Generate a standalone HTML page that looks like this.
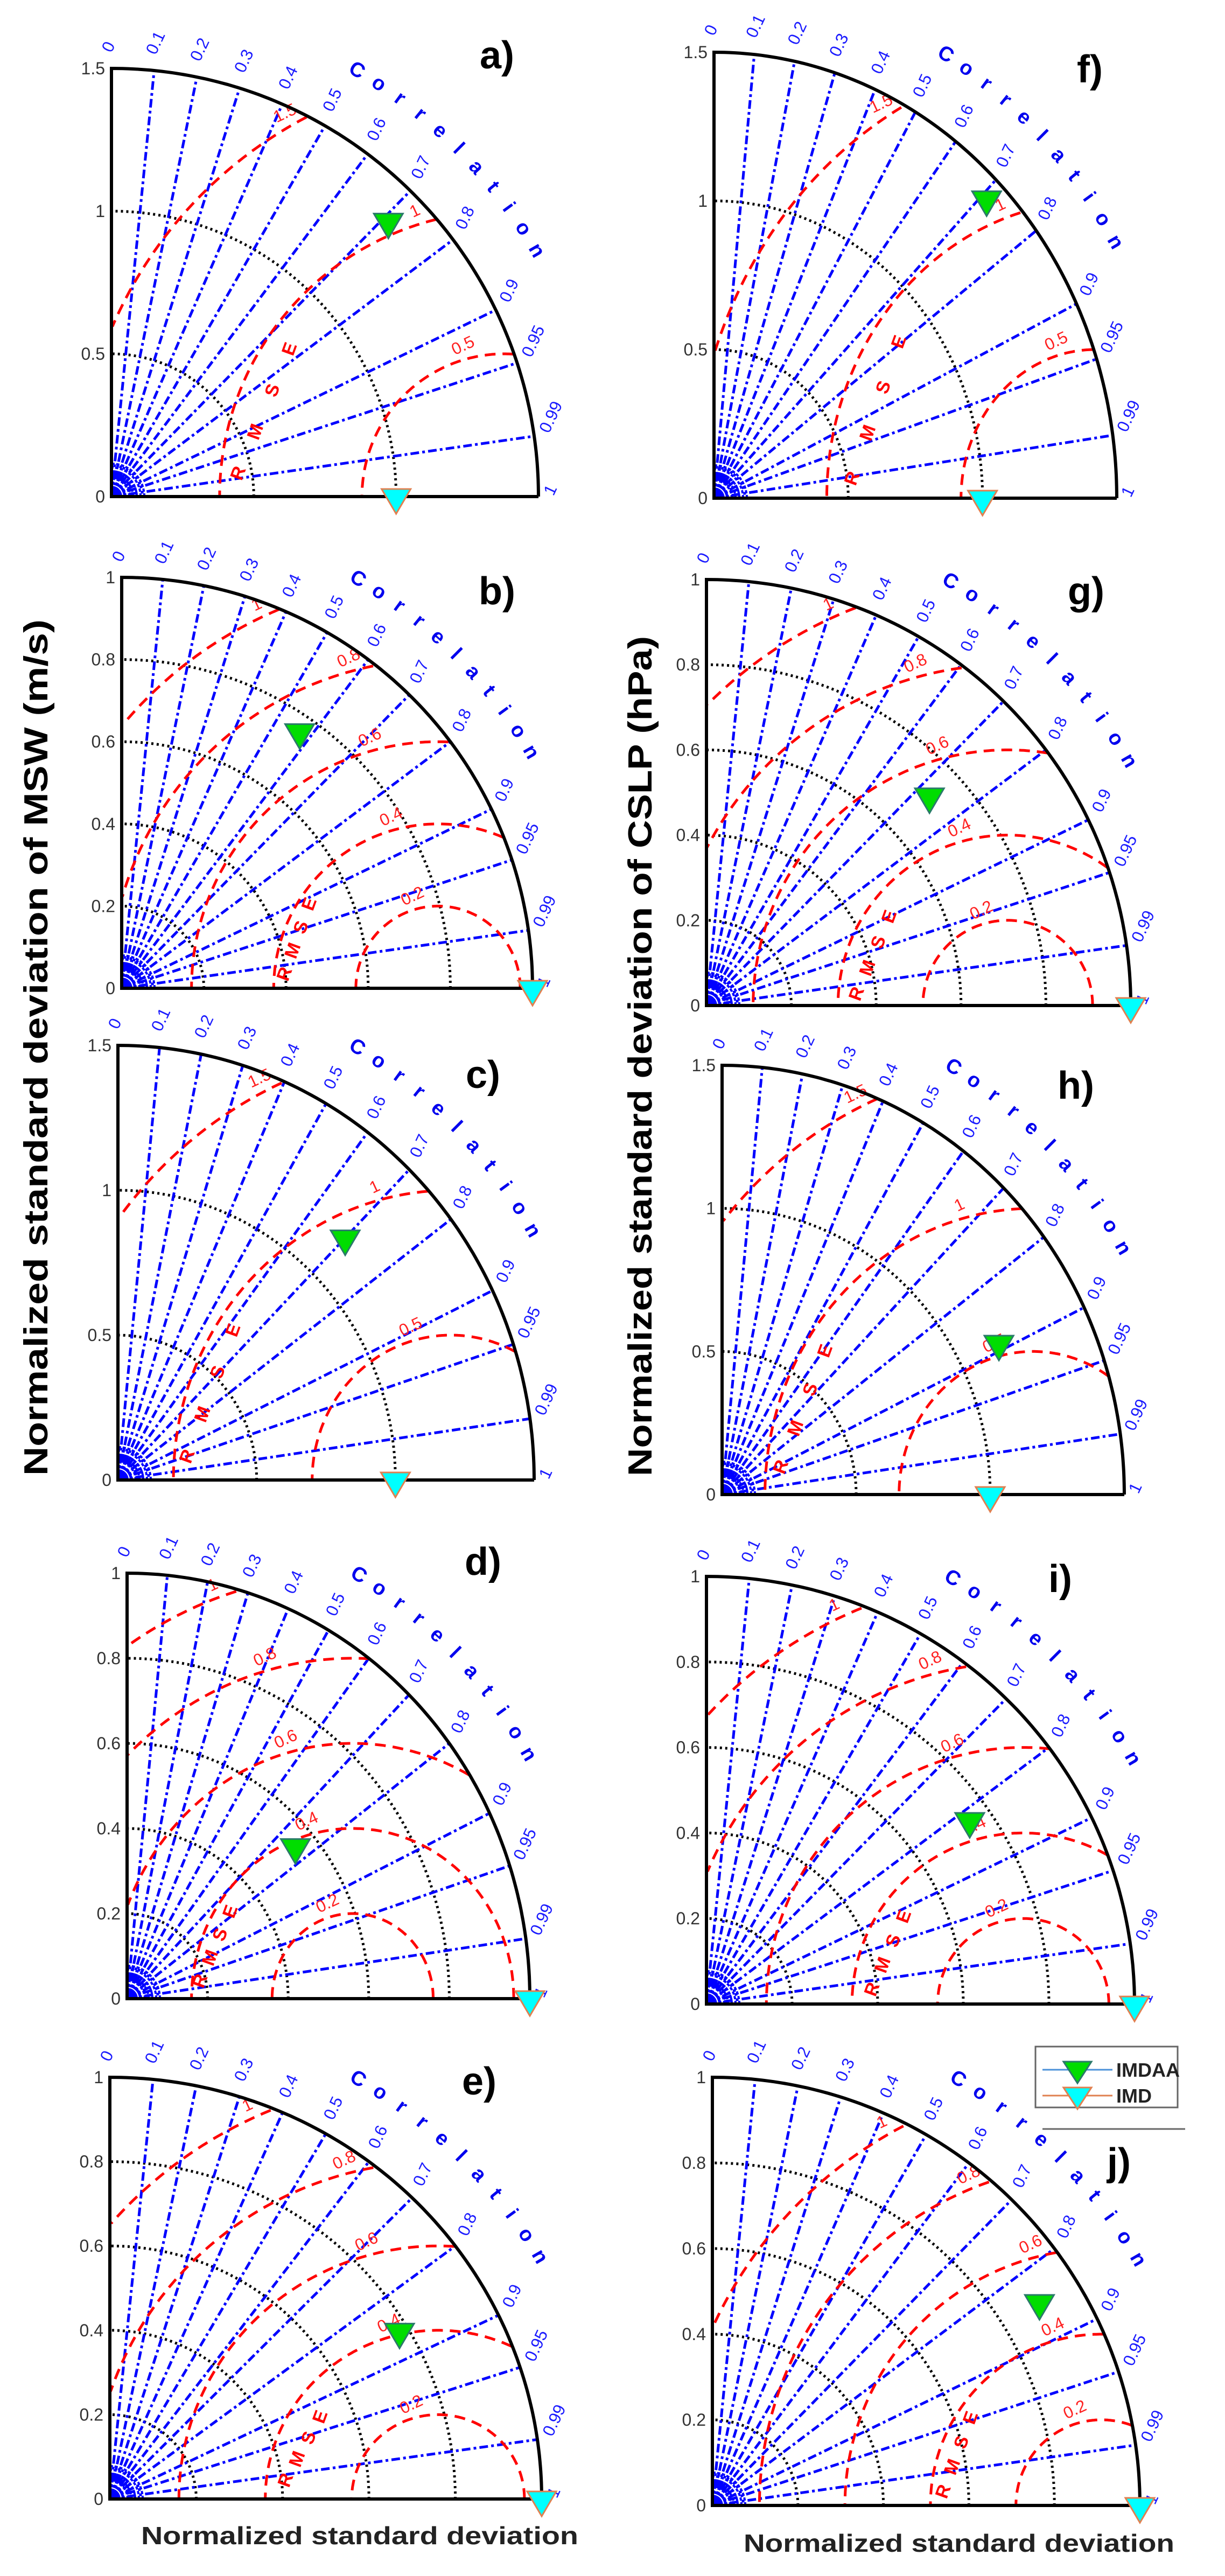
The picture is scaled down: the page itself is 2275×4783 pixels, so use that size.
<!DOCTYPE html>
<html><head><meta charset="utf-8"><title>Taylor diagrams MSW / CSLP</title>
<style>
html,body{margin:0;padding:0;background:#fff;}
svg{display:block;}
text{font-family:"Liberation Sans",sans-serif;}
</style></head>
<body>
<svg id="fig" width="2275" height="4783" viewBox="0 0 2275 4783" xmlns="http://www.w3.org/2000/svg">
<rect x="0" y="0" width="2275" height="4783" fill="#fff"/>
<text x="0" y="0" transform="translate(88,1945) rotate(-90)" text-anchor="middle" font-size="62" font-weight="bold" fill="#000" textLength="1590" lengthAdjust="spacingAndGlyphs">Normalized standard deviation of MSW (m/s)</text>
<text x="0" y="0" transform="translate(1210,1961) rotate(-90)" text-anchor="middle" font-size="62" font-weight="bold" fill="#000" textLength="1560" lengthAdjust="spacingAndGlyphs">Normalized standard deviation of CSLP (hPa)</text>
<text x="262" y="4724" font-size="46" font-weight="bold" fill="#222" textLength="812" lengthAdjust="spacingAndGlyphs">Normalized standard deviation</text>
<text x="1381" y="4738" font-size="46" font-weight="bold" fill="#222" textLength="800" lengthAdjust="spacingAndGlyphs">Normalized standard deviation</text>
<g>
<rect x="1923" y="3800" width="264" height="113" fill="#fff" stroke="#666" stroke-width="3"/>
<line x1="1936" y1="3843" x2="2066" y2="3843" stroke="#4a90d9" stroke-width="3"/>
<polygon points="1975,3828 2027,3828 2001,3868" fill="#00dd00" stroke="#2a7a6a" stroke-width="3"/>
<text x="2073" y="3856" font-size="36" font-weight="bold" fill="#222">IMDAA</text>
<line x1="1936" y1="3891" x2="2066" y2="3891" stroke="#e08050" stroke-width="3"/>
<polygon points="1975,3876 2027,3876 2001,3916" fill="#00ffff" stroke="#e08050" stroke-width="3"/>
<text x="2073" y="3904" font-size="36" font-weight="bold" fill="#222">IMD</text>
<line x1="1936" y1="3953" x2="2201" y2="3953" stroke="#666" stroke-width="3"/>
</g>
</svg>
<script>
// ---- data ----
const panelIds   = ['a','b','c','d','e','f','g','h','i','j'];
const axisMax    = [1.5, 1, 1.5, 1, 1, 1.5, 1, 1.5, 1, 1];
const imdaaStd   = [1.37, 0.76, 1.17, 0.55, 0.78, 1.43, 0.72, 1.16, 0.75, 0.90];
const imdaaCorr  = [0.71, 0.57, 0.70, 0.76, 0.86, 0.71, 0.73, 0.89, 0.82, 0.85];
const imdStd     = [1, 1, 1, 1, 1, 1, 1, 1, 1, 1];
const imdCorr    = [1, 1, 1, 1, 1, 1, 1, 1, 1, 1];
const rmsRefStd  = [1.38, 0.77, 1.20, 0.56, 0.76, 1.42, 0.71, 1.16, 0.74, 0.91];
const corrTicks  = [0,0.1,0.2,0.3,0.4,0.5,0.6,0.7,0.8,0.9,0.95,0.99,1];
const corrTickLabels = ['0','0.1','0.2','0.3','0.4','0.5','0.6','0.7','0.8','0.9','0.95','0.99','1'];
const stdArcsBig   = [0.5, 1.0];
const stdArcsSmall = [0.2, 0.4, 0.6, 0.8];
const rmsBig   = [0.5, 1, 1.5];
const rmsSmall = [0.2, 0.4, 0.6, 0.8, 1];
const yTicksBig   = ['0','0.5','1','1.5'];
const yTicksSmall = ['0','0.2','0.4','0.6','0.8','1'];

// ---- layout (pixel geometry per panel) ----
const geom = {
 a:{ox:207,oy:922,rx:793,ry:795, lab:[923,102], R:[0.31,0.05], E:[0.43,0.34]},
 b:{ox:226,oy:1835,rx:763,ry:763, lab:[923,1097], R:[0.41,0.03], E:[0.47,0.20]},
 c:{ox:219,oy:2748,rx:773,ry:807, lab:[897,1995], R:[0.18,0.05], E:[0.29,0.34]},
 d:{ox:236,oy:3711,rx:748,ry:790, lab:[897,2899], R:[0.195,0.037], E:[0.27,0.20]},
 e:{ox:204,oy:4640,rx:802,ry:783, lab:[890,3864], R:[0.42,0.04], E:[0.50,0.19]},
 f:{ox:1326,oy:925,rx:748,ry:828, lab:[2024,128], R:[0.357,0.04], E:[0.473,0.346]},
 g:{ox:1312,oy:1867,rx:788,ry:791, lab:[2017,1097], R:[0.367,0.023], E:[0.444,0.204]},
 h:{ox:1341,oy:2775,rx:747,ry:797, lab:[1998,2015], R:[0.16,0.06], E:[0.27,0.33]},
 i:{ox:1312,oy:3721,rx:795,ry:794, lab:[1969,2931], R:[0.40,0.03], E:[0.474,0.20]},
 j:{ox:1323,oy:4652,rx:794,ry:795, lab:[2078,4014], R:[0.553,0.028], E:[0.617,0.20]}
};

const NS='http://www.w3.org/2000/svg';
const fig=document.getElementById('fig');
function mk(tag, parent){const e=document.createElementNS(NS,tag);parent.appendChild(e);return e;}
function pathFrom(pts){let d='';pts.forEach((p,k)=>{d+=(k?'L':'M')+p[0].toFixed(1)+' '+p[1].toFixed(1);});return d;}

panelIds.forEach((id,idx)=>{
  const G=geom[id], M=axisMax[idx], C=rmsRefStd[idx];
  const sx=v=>G.ox+v/M*G.rx, sy=v=>G.oy-v/M*G.ry;
  const g=mk('g',fig);
  
  
  const big = M>1.2;
  // near-origin blob
  const blob=mk('path',g);
  blob.setAttribute('d','M'+G.ox+' '+G.oy+' L'+(G.ox+20)+' '+G.oy+' A20 20 0 0 0 '+G.ox+' '+(G.oy-20)+' Z');
  blob.setAttribute('fill','#0000ff');
  
  
  for(let r=26;r<=66;r+=7){
    const pts=[];for(let k=0;k<=24;k++){const t=k/24*Math.PI/2;pts.push([G.ox+r*Math.cos(t),G.oy-r*Math.sin(t)]);}
    const p=mk('path',g);p.setAttribute('d',pathFrom(pts));p.setAttribute('fill','none');p.setAttribute('stroke','#0000ff');p.setAttribute('stroke-width','4');p.setAttribute('stroke-dasharray','6 3');
    
    
  }
  // std dotted arcs
  (big?stdArcsBig:stdArcsSmall).forEach(s=>{
    const pts=[];for(let k=0;k<=90;k++){const t=k/90*Math.PI/2;pts.push([sx(s*Math.cos(t)),sy(s*Math.sin(t))]);}
    const p=mk('path',g);p.setAttribute('d',pathFrom(pts));p.setAttribute('fill','none');p.setAttribute('stroke','#000');p.setAttribute('stroke-width','5');p.setAttribute('stroke-dasharray','4 6');
    
    
  });
  // correlation lines + labels
  corrTicks.forEach((c,k)=>{
    const th=Math.acos(c);
    if(c>0&&c<1){
      const p=mk('line',g);p.setAttribute('x1',G.ox);p.setAttribute('y1',G.oy);p.setAttribute('x2',sx(M*Math.cos(th)));p.setAttribute('y2',sy(M*Math.sin(th)));
      p.setAttribute('stroke','#0000ff');p.setAttribute('stroke-width','5');p.setAttribute('stroke-dasharray','16 6 5 6');
      
      
    }
    const lx=sx(1.035*M*Math.cos(th)),ly=sy(1.035*M*Math.sin(th));
    const t=mk('text',g);t.textContent=corrTickLabels[k];t.setAttribute('x',lx);t.setAttribute('y',ly);
    t.setAttribute('font-size','31');t.setAttribute('fill','#1a1aff');
    t.setAttribute('transform','rotate(-65 '+lx+' '+ly+')');
    
    
  });
  // RMSE dashed arcs centred on reference std
  (big?rmsBig:rmsSmall).forEach(r=>{
    let seg=[],segs=[];
    for(let k=0;k<=300;k++){const f=k/300*Math.PI;const x=C+r*Math.cos(f),y=r*Math.sin(f);
      if(x>=0&&y>=0&&x*x+y*y<=M*M*1.0005){seg.push([sx(x),sy(y)]);}else{if(seg.length>1)segs.push(seg);seg=[];}}
    if(seg.length>1)segs.push(seg);
    segs.forEach(s=>{const p=mk('path',g);p.setAttribute('d',pathFrom(s));p.setAttribute('fill','none');p.setAttribute('stroke','#ff0000');p.setAttribute('stroke-width','5');p.setAttribute('stroke-dasharray','20 13');
      
      });
    // label near top of contour (inside ring)
    let ang=105*Math.PI/180;
    for(let s=0;s<60;s++){const x=C+r*Math.cos(ang),y=r*Math.sin(ang);if(x*x+y*y<=(M*0.97)*(M*0.97)&&x>=0.02)break;ang+=(x<0.02?-1:1)*0.02;}
    const lx=C+(r+0.02*M)*Math.cos(ang),ly=(r+0.02*M)*Math.sin(ang);
    const t=mk('text',g);t.textContent=String(r);t.setAttribute('x',sx(lx));t.setAttribute('y',sy(ly));
    t.setAttribute('font-size','31');t.setAttribute('fill','#ff2020');t.setAttribute('text-anchor','middle');
    t.setAttribute('transform','rotate(-25 '+sx(lx)+' '+sy(ly)+')');
    
    
  });
  // RMSE letters
  'RMSE'.split('').forEach((ch,k)=>{
    const f=k/3;const x=(G.R[0]+(G.E[0]-G.R[0])*f)*M,y=(G.R[1]+(G.E[1]-G.R[1])*f)*M;
    const t=mk('text',g);t.textContent=ch;t.setAttribute('x',sx(x));t.setAttribute('y',sy(y));
    t.setAttribute('font-size','34');t.setAttribute('font-weight','bold');t.setAttribute('fill','#ff0000');t.setAttribute('text-anchor','middle');
    t.setAttribute('transform','rotate(-70 '+sx(x)+' '+sy(y)+')');
    
    
  });
  // Correlation word
  'Correlation'.split('').forEach((ch,k)=>{
    const deg=60-k*3.0, th=deg*Math.PI/180;
    const x=G.ox+1.135*G.rx*Math.cos(th), y=G.oy-1.135*G.ry*Math.sin(th);
    const t=mk('text',g);t.textContent=ch;t.setAttribute('x',x);t.setAttribute('y',y);
    t.setAttribute('font-size','38');t.setAttribute('font-weight','bold');t.setAttribute('fill','#0000ee');t.setAttribute('text-anchor','middle');
    t.setAttribute('transform','rotate('+(90-deg)+' '+x+' '+y+')');
    
    
  });
  // outer arc and axes
  const op=[];for(let k=0;k<=120;k++){const t=k/120*Math.PI/2;op.push([sx(M*Math.cos(t)),sy(M*Math.sin(t))]);}
  const outer=mk('path',g);outer.setAttribute('d','M'+sx(M)+' '+G.oy+' L'+G.ox+' '+G.oy+' L'+G.ox+' '+sy(M)+pathFrom(op.reverse()).replace('M','L'));
  outer.setAttribute('fill','none');outer.setAttribute('stroke','#000');outer.setAttribute('stroke-width','6');
  
  
  // y ticks
  (big?yTicksBig:yTicksSmall).forEach(lbl=>{
    const v=parseFloat(lbl);const t=mk('text',g);t.textContent=lbl;t.setAttribute('x',G.ox-12);t.setAttribute('y',sy(v)+11);
    t.setAttribute('font-size','32');t.setAttribute('fill','#333');t.setAttribute('text-anchor','end');
    
    
  });
  // markers
  function tri(std,corr,fill,stroke,name){
    const th=Math.acos(corr);const x=sx(std*Math.cos(th)),y=sy(std*Math.sin(th))+6;
    const p=mk('polygon',g);p.setAttribute('points',(x-27)+','+(y-20)+' '+(x+27)+','+(y-20)+' '+x+','+(y+26));
    p.setAttribute('fill',fill);p.setAttribute('stroke',stroke);p.setAttribute('stroke-width','3');
    
    
  }
  tri(imdStd[idx],imdCorr[idx],'#00ffff','#e08050','imd-marker');
  tri(imdaaStd[idx],imdaaCorr[idx],'#00dd00','#2a7a6a','imdaa-marker');
  // panel label
  const pl=mk('text',g);pl.textContent=id+')';pl.setAttribute('x',G.lab[0]);pl.setAttribute('y',G.lab[1]+25);
  pl.setAttribute('font-size','72');pl.setAttribute('font-weight','bold');pl.setAttribute('fill','#000');pl.setAttribute('text-anchor','middle');
  
  
});
</script>
</body></html>
